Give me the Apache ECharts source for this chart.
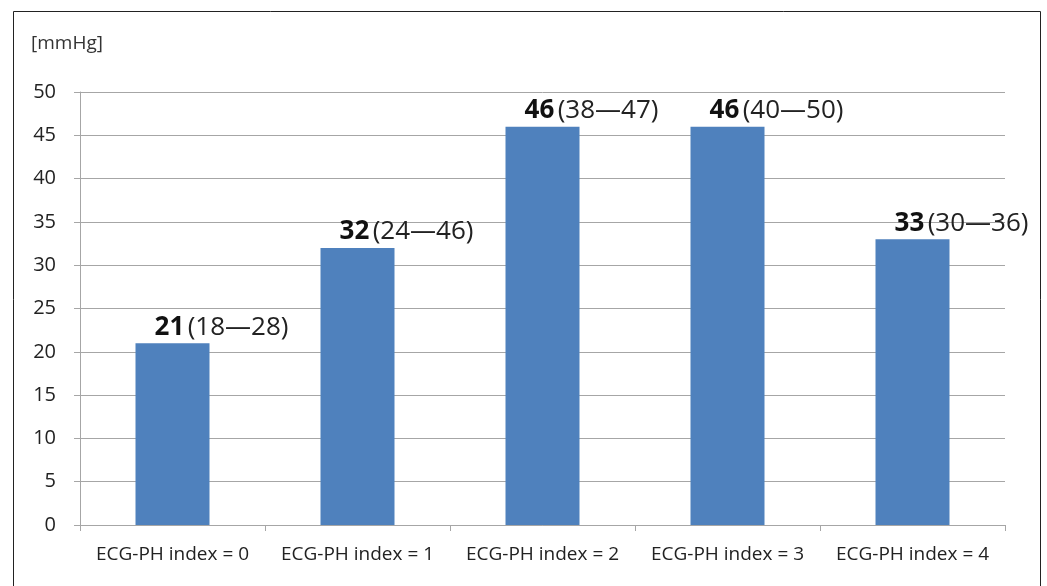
<!DOCTYPE html>
<html>
<head>
<meta charset="utf-8">
<script src="https://cdn.jsdelivr.net/npm/echarts@6/dist/echarts.min.js"></script>
<style>
    html, body { margin: 0; padding: 0; background: #fff; }
    #chart { width: 1047px; height: 586px; }
</style>
</head>
<body>
<div id="chart"></div>
<script>
var categories = ['ECG-PH index = 0', 'ECG-PH index = 1', 'ECG-PH index = 2', 'ECG-PH index = 3', 'ECG-PH index = 4'];
var medians = [21, 32, 46, 46, 33];
var rangeLow = [18, 24, 38, 40, 30];
var rangeHigh = [28, 46, 47, 50, 36];
var yTicks = { min: 0, max: 50, interval: 5 };

var font = 'Open Sans, Liberation Sans, sans-serif';
var chart = echarts.init(document.getElementById('chart'));

var option = {
    animation: false,
    title: {
        text: '[mmHg]',
        left: 26,
        top: 29,
        textStyle: { fontFamily: font, fontSize: 19, fontWeight: 'normal', color: '#333' }
    },
    graphic: [
        {
            type: 'rect',
            shape: { x: 13.5, y: 11.5, width: 1027, height: 590 },
            style: { fill: 'none', stroke: '#222', lineWidth: 1 },
            silent: true
        }
    ],
    grid: {
        left: 80,
        right: 42,
        top: 92,
        bottom: 61
    },
    xAxis: {
        type: 'category',
        data: categories,
        axisLine: { lineStyle: { color: '#a6a6a6' } },
        axisTick: { show: true, length: 6, lineStyle: { color: '#a6a6a6' } },
        axisLabel: { fontFamily: font, fontSize: 19, color: '#222', margin: 20, interval: 0 }
    },
    yAxis: {
        type: 'value',
        min: yTicks.min,
        max: yTicks.max,
        interval: yTicks.interval,
        axisLine: { show: true, lineStyle: { color: '#a6a6a6' } },
        axisTick: { show: true, length: 6, lineStyle: { color: '#a6a6a6' } },
        axisLabel: { fontFamily: font, fontSize: 20, color: '#222', margin: 24 },
        splitLine: { lineStyle: { color: '#a6a6a6' } }
    },
    series: [
        {
            type: 'bar',
            data: medians,
            barWidth: 74,
            itemStyle: { color: '#4f81bd' },
            label: {
                show: true,
                position: 'top',
                distance: 3,
                offset: [49, 0],
                formatter: function (p) {
                    var i = p.dataIndex;
                    return '{b|' + medians[i] + '} {r|(' + rangeLow[i] + '\u2014' + rangeHigh[i] + ')}';
                },
                rich: {
                    b: { fontFamily: font, fontSize: 26, fontWeight: 'bold', color: '#111' },
                    r: { fontFamily: font, fontSize: 26, color: '#222' }
                }
            }
        }
    ]
};

chart.setOption(option);
</script>
</body>
</html>
